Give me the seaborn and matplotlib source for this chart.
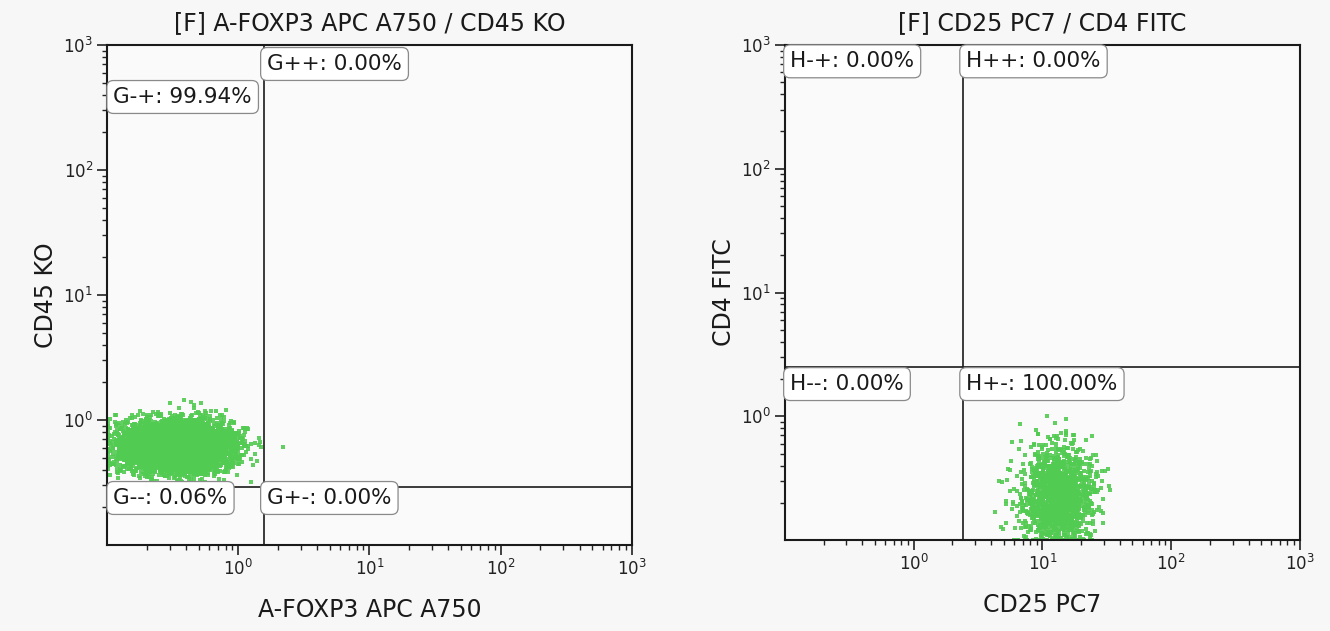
import numpy as np
import pandas as pd
import matplotlib
matplotlib.use("Agg")
import matplotlib.pyplot as plt
import matplotlib.ticker as mticker
import seaborn as sns

# ---------------- data ----------------
titles = ["[F] A-FOXP3 APC A750 / CD45 KO", "[F] CD25 PC7 / CD4 FITC"]
x_labels = ["A-FOXP3 APC A750", "CD25 PC7"]
y_labels = ["CD45 KO", "CD4 FITC"]
axis_limits = [0.1, 1000.0]
tick_values = [1, 10, 100, 1000]
tick_labels = ["$10^{0}$", "$10^{1}$", "$10^{2}$", "$10^{3}$"]

# quadrant gates (x threshold, y threshold)
gate_x = [1.58, 2.4]
gate_y = [0.29, 2.5]

# quadrant statistics: (name, percent)
left_quadrants = [("G-+", 99.94), ("G++", 0.00), ("G--", 0.06), ("G+-", 0.00)]
right_quadrants = [("H-+", 0.00), ("H++", 0.00), ("H--", 0.00), ("H+-", 100.00)]

# event clusters (log10 centre, log10 spread, count)
left_cluster_center = [-0.47, -0.21]
left_cluster_sd = [0.20, 0.095]
left_cluster_n = 6500
right_cluster_center = [1.12, -0.66]
right_cluster_sd = [0.14, 0.20]
right_cluster_n = 1600

# ---------------- build event tables ----------------
rng = np.random.default_rng(7)


def make_events(center, sd, n):
    lx = rng.normal(center[0], sd[0], n)
    ly = rng.normal(center[1], sd[1], n)
    lo, hi = np.log10(axis_limits[0]) + 0.004, np.log10(axis_limits[1]) - 0.004
    lx = np.clip(lx, lo, hi)
    ly = np.clip(ly, lo, hi)
    return pd.DataFrame({"x": 10 ** lx, "y": 10 ** ly})


events = [make_events(left_cluster_center, left_cluster_sd, left_cluster_n),
          make_events(right_cluster_center, right_cluster_sd, right_cluster_n)]
quadrants = [left_quadrants, right_quadrants]

# label anchor positions in axes fractions (order: -+, ++, --, +-)
label_pos = [
    [(0.012, 0.896), (0.305, 0.962), (0.012, 0.094), (0.305, 0.094)],
    [(0.010, 0.967), (0.352, 0.967), (0.010, 0.315), (0.352, 0.315)],
]

# ---------------- drawing ----------------
sns.set_style("white")
plt.rcParams["font.family"] = ["DejaVu Sans"]
plt.rcParams["mathtext.default"] = "regular"

fig = plt.figure(figsize=(13.3, 6.31), dpi=100, facecolor="#F7F7F8")
axes = [fig.add_axes([0.0805, 0.1363, 0.3945, 0.7924]),
        fig.add_axes([0.5902, 0.1442, 0.3872, 0.7845])]

green = "#52CB52"
for i, ax in enumerate(axes):
    ax.set_facecolor("#FAFAFB")
    sns.scatterplot(data=events[i], x="x", y="y", ax=ax, color=green,
                    s=7, linewidth=0, marker="s", alpha=0.9, legend=False)
    ax.set_xscale("log")
    ax.set_yscale("log")
    ax.set_xlim(axis_limits)
    ax.set_ylim(axis_limits)
    ax.set_xticks(tick_values)
    ax.set_xticklabels(tick_labels)
    ax.set_yticks(tick_values)
    ax.set_yticklabels(tick_labels)
    ax.xaxis.set_minor_locator(mticker.LogLocator(base=10, subs=np.arange(2, 10)))
    ax.yaxis.set_minor_locator(mticker.LogLocator(base=10, subs=np.arange(2, 10)))
    ax.xaxis.set_minor_formatter(mticker.NullFormatter())
    ax.yaxis.set_minor_formatter(mticker.NullFormatter())
    ax.tick_params(axis="both", which="both", bottom=True, left=True,
                   top=False, right=False)
    ax.tick_params(axis="both", which="major", direction="out", length=7,
                   width=1.2, color="#222222", labelsize=12, pad=3,
                   labelcolor="#222222")
    ax.tick_params(axis="both", which="minor", direction="out", length=3.5,
                   width=1.0, color="#222222")
    for sp in ax.spines.values():
        sp.set_color("#1a1a1a")
        sp.set_linewidth(1.5)

    # gates
    ax.axvline(gate_x[i], color="#1a1a1a", lw=1.2)
    ax.axhline(gate_y[i], color="#1a1a1a", lw=1.2)

    # quadrant labels
    for (name, pct), (fx, fy) in zip(quadrants[i], label_pos[i]):
        ax.text(fx, fy, f"{name}: {pct:.2f}%", transform=ax.transAxes,
                ha="left", va="center", fontsize=15.5, color="#1a1a1a",
                bbox=dict(boxstyle="round,pad=0.3,rounding_size=0.3",
                          fc="white", ec="#8a8a8a", lw=0.9))

    ax.set_title(titles[i], fontsize=17, color="#1a1a1a", pad=11)
    ax.set_xlabel(x_labels[i], fontsize=17, color="#1a1a1a", labelpad=14)
    ax.set_ylabel(y_labels[i], fontsize=17, color="#1a1a1a", labelpad=4)

fig.savefig("out.png", dpi=100, facecolor=fig.get_facecolor())
